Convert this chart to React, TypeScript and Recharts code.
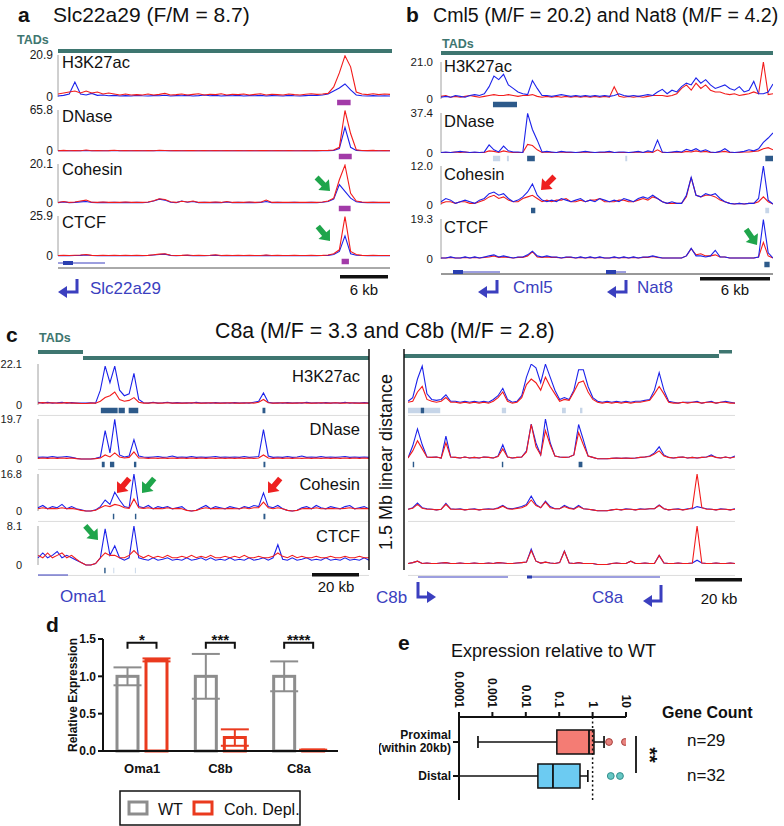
import React from 'react';
import {
  LineChart, Line, XAxis, YAxis, ReferenceArea, ReferenceLine,
  BarChart, Bar, ErrorBar, ComposedChart, Cell,
} from 'recharts';

const FONT = '"Liberation Sans", Arial, Helvetica, sans-serif';
const SIG_BLUE = '#1c22ea';
const SIG_RED = '#f21c1c';
const TEAL = '#3e7670';
const GENE_BLUE = '#3b3fbf';
const PEAK_COLORS: Record<string, string> = { p: '#a23aa8', d: '#2d5a8a', l: '#c6d5e8' };
const WT_GRAY = '#8d8d8d';
const COH_RED = '#ea3a1e';
const ARROW_GREEN = '#1fa54b';
const ARROW_RED = '#ee2020';

// ---- genome browser tracks ----
const TRACKS = ['H3K27ac', 'DNase', 'Cohesin', 'CTCF'];
const aMax = [20.9, 65.8, 20.1, 25.9];
const bMax = [21.0, 37.4, 12.0, 19.3];
const cMax = [22.1, 19.7, 16.8, 8.1];

// panel a: Slc22a29 locus (60 bins)
const aH3Blue = [
  0.5, 0.8, 1.5, 7.5, 1.5, 1, 1.8, 0.8, 1, 0.6,
  0.8, 0.5, 0.7, 0.5, 0.8, 0.6, 0.5, 0.7, 0.6, 0.9,
  0.5, 0.7, 0.6, 0.8, 0.5, 0.7, 1, 0.6, 0.8, 0.5,
  0.7, 0.6, 0.8, 0.5, 0.7, 0.6, 0.8, 0.5, 0.7, 0.6,
  0.5, 0.8, 0.6, 0.5, 0.7, 0.9, 0.8, 1, 1.5, 3,
  4.5, 6.5, 3.5, 1, 0.6, 0.5, 0.7, 0.5, 0.6, 0.5,
];
const aH3Red = [
  1.5, 2, 2.5, 3, 2, 3, 2, 2.5, 1.5, 2,
  1.5, 1, 1.5, 1, 1.2, 1, 1.5, 1, 1.3, 1.8,
  1, 1.2, 1.5, 1, 1.3, 1.6, 1, 1.4, 1.2, 1.6,
  1, 1.4, 1.2, 1.5, 1, 1.3, 1.6, 1, 1.4, 1.2,
  1, 1.5, 1.2, 1, 1.4, 1.6, 1.3, 1.5, 1.8, 5,
  12, 20.5, 15, 2.5, 1.5, 1.2, 1.6, 1.2, 1.5, 1.3,
];
const aDnBlue = [
  0.3, 0.5, 0.3, 0.4, 0.3, 0.8, 0.3, 0.5, 0.3, 0.4,
  0.6, 0.3, 0.4, 0.3, 0.5, 0.3, 0.4, 0.3, 0.6, 0.5,
  0.3, 0.4, 0.3, 0.4, 0.5, 0.3, 0.4, 0.3, 0.4, 0.3,
  0.5, 0.3, 0.4, 0.3, 0.4, 0.3, 0.5, 0.4, 0.3, 0.4,
  0.3, 0.4, 0.3, 0.3, 0.4, 0.3, 0.4, 0.5, 0.6, 1,
  4, 38, 6, 1, 0.5, 0.4, 0.6, 0.3, 0.4, 0.3,
];
const aDnRed = [
  0.5, 1, 0.5, 0.8, 0.5, 1.5, 0.5, 0.8, 0.5, 0.6,
  1.2, 0.5, 0.7, 0.5, 0.8, 0.5, 0.6, 0.5, 1.2, 0.8,
  0.5, 0.7, 0.5, 0.6, 0.8, 0.5, 0.7, 0.5, 0.6, 0.5,
  0.8, 0.5, 0.6, 0.5, 0.7, 0.5, 0.8, 0.6, 0.5, 0.7,
  0.5, 0.6, 0.5, 0.5, 0.7, 0.5, 0.6, 0.8, 1, 1.5,
  6, 65, 28, 2, 0.8, 0.6, 1, 0.5, 0.6, 0.5,
];
const aCoBlue = [
  0.2, 0.6, 0.2, 0.3, 0.6, 0.8, 0.3, 0.2, 0.3, 0.2,
  0.3, 0.2, 0.3, 0.2, 0.3, 0.2, 0.4, 1, 2, 1.5,
  0.4, 0.2, 1, 0.4, 0.8, 0.2, 0.3, 0.2, 0.3, 0.2,
  0.5, 0.2, 0.3, 0.2, 0.3, 0.2, 0.3, 0.8, 0.2, 0.3,
  0.2, 0.2, 0.3, 0.2, 0.2, 0.3, 0.2, 0.4, 0.8, 2,
  9.5, 6, 2.5, 0.6, 0.3, 0.2, 0.3, 0.2, 0.2, 0.2,
];
const aCoRed = [
  0.3, 0.8, 0.3, 0.5, 1, 1.5, 0.4, 0.3, 0.5, 0.3,
  0.4, 0.3, 0.5, 0.3, 0.4, 0.3, 0.5, 1.2, 2.2, 1.8,
  0.6, 0.3, 0.9, 0.5, 1, 0.3, 0.4, 0.3, 0.5, 0.3,
  0.8, 0.3, 0.4, 0.3, 0.5, 0.3, 0.4, 1.5, 0.3, 0.4,
  0.3, 0.3, 0.4, 0.3, 0.3, 0.4, 0.3, 0.5, 1, 2.5,
  12, 19.5, 5, 1, 0.5, 0.3, 0.4, 0.3, 0.3, 0.3,
];
const aCtBlue = [
  0.2, 0.3, 0.2, 0.3, 0.4, 0.6, 0.3, 0.2, 0.3, 0.2,
  0.3, 0.2, 0.3, 0.2, 0.3, 0.2, 0.3, 0.6, 1, 1.2,
  0.4, 0.2, 0.3, 0.4, 0.2, 0.3, 0.2, 0.3, 0.5, 0.2,
  0.3, 0.2, 0.3, 0.2, 0.3, 0.2, 0.2, 0.4, 0.2, 0.3,
  0.2, 0.2, 0.3, 0.2, 0.2, 0.3, 0.2, 0.3, 0.4, 1,
  3, 13, 1.5, 0.5, 0.3, 0.2, 0.3, 0.2, 0.2, 0.2,
];
const aCtRed = [
  0.3, 0.4, 0.3, 0.5, 0.6, 1, 0.4, 0.3, 0.4, 0.3,
  0.5, 0.3, 0.4, 0.3, 0.4, 0.3, 0.4, 0.8, 1.2, 1.5,
  0.5, 0.3, 0.4, 0.6, 0.3, 0.4, 0.3, 0.5, 0.8, 0.3,
  0.4, 0.3, 0.5, 0.3, 0.4, 0.3, 0.3, 0.6, 0.3, 0.4,
  0.3, 0.3, 0.4, 0.3, 0.3, 0.4, 0.3, 0.4, 0.6, 1.5,
  4, 25.5, 3, 1, 0.4, 0.3, 0.4, 0.3, 0.3, 0.3,
];

// panel b: Cml5 / Nat8 locus (70 bins)
const bH3Blue = [
  1, 1.5, 1, 2, 1.5, 1, 2, 2.5, 2, 3,
  7, 13, 11, 14, 8, 6, 4, 3, 2.5, 10.5,
  6, 2, 2, 1.5, 2, 2.5, 2, 1.5, 2, 1.5,
  2, 1.5, 2, 1.5, 2, 1.5, 2, 3, 2, 1.5,
  2, 1.5, 2, 2.5, 2, 4, 5.5, 3, 5, 4,
  7, 9, 8, 12, 9, 11, 8, 6, 7, 8,
  6, 5, 7, 4, 5, 10, 3, 3, 4, 8.5,
];
const bH3Red = [
  1.5, 2, 1, 1.5, 1, 1.5, 2, 1.5, 1, 1.5,
  2, 2.5, 2, 2, 2.5, 2, 1.5, 2, 2, 2.5,
  1.5, 1, 1.5, 1, 1.5, 1, 1.5, 1, 1.5, 1,
  1.5, 1, 1.5, 1, 1.5, 1, 7, 1.5, 1, 1.5,
  1, 1.5, 1, 1.5, 2, 2, 2, 1.5, 2, 3,
  6, 8, 5, 9, 6, 8, 5, 4, 4, 3,
  2.5, 3, 2, 2.5, 3, 4, 3, 21, 2.5, 3,
];
const bDnBlue = [
  0.5, 1, 0.5, 1, 1.5, 1, 0.5, 1, 0.5, 1,
  7.5, 3, 1, 6.5, 2, 1, 1, 0.5, 37, 22,
  12, 1, 1.5, 1, 0.5, 1.5, 1, 1, 0.5, 1,
  1.5, 1, 0.5, 1, 1, 1.5, 0.5, 1, 1, 0.5,
  1, 1.5, 0.5, 2, 1, 12, 1, 0.5, 1, 1.5,
  1, 3.5, 2, 4, 1.5, 3, 1, 0.5, 1.5, 4,
  1, 0.5, 1, 1.5, 3, 2, 4, 10, 14, 18.7,
];
const bDnRed = [
  0.5, 0.5, 0.5, 1, 0.5, 1, 0.5, 0.5, 0.5, 0.5,
  2, 1.5, 0.5, 2, 1, 0.5, 0.5, 0.5, 8, 7,
  3, 0.5, 1, 0.5, 0.5, 1, 0.5, 0.5, 0.5, 0.5,
  1, 0.5, 0.5, 0.5, 0.5, 1, 0.5, 0.5, 0.5, 0.5,
  0.5, 1, 0.5, 1, 0.5, 3, 0.5, 0.5, 0.5, 1,
  0.5, 1.5, 1, 2, 1, 1.5, 0.5, 0.5, 1, 1.5,
  0.5, 0.5, 0.5, 1, 1, 1.5, 2, 4, 5, 3,
];
const bCoBlue = [
  1, 2, 1.5, 0.5, 1, 1.5, 1, 0.5, 1.5, 2,
  3.5, 4, 3, 3.5, 2, 1, 1.5, 2.5, 4, 6.5,
  3, 1.5, 1, 1.5, 1, 2, 1.5, 1, 1.5, 2,
  1, 1.5, 1, 2, 1.5, 1, 1.5, 1, 2, 1.5,
  1, 2, 2.5, 2, 3, 2, 1, 0.5, 1, 0.5,
  0.5, 3, 8.5, 3, 2.5, 3.5, 3, 3.5, 2, 1,
  0.5, 0.3, 0.5, 0.3, 0.5, 0.5, 2, 12, 1.5, 0.3,
];
const bCoRed = [
  0.5, 1, 1, 0.5, 1, 1, 0.5, 0.5, 1, 1.5,
  2.5, 3, 2, 2.5, 1.5, 1, 1, 2, 2.5, 3,
  2, 1, 1.5, 1, 1.5, 1.5, 2, 1, 1, 1.5,
  1, 1.5, 1.5, 2, 1, 1, 1, 1.5, 1.5, 1,
  1, 1.5, 2, 1.5, 2.5, 2, 1, 0.5, 0.5, 0.5,
  0.5, 2.5, 8.5, 3, 2.5, 3, 3, 2.5, 1.5, 1,
  0.5, 0.3, 0.5, 0.3, 0.5, 0.5, 1, 2.5, 1, 0.3,
];
const bCtBlue = [
  0.5, 0.5, 1, 0.5, 0.5, 1, 0.5, 1, 0.5, 1,
  1.5, 2, 1, 1.5, 1, 0.5, 1, 1, 2, 3.8,
  1.5, 1, 1.5, 1, 1, 0.5, 1, 1, 0.5, 1,
  0.5, 1, 0.5, 1, 0.5, 0.5, 1, 0.5, 1, 0.5,
  1, 0.5, 1, 1, 1.5, 1, 0.5, 0.5, 0.5, 0.5,
  0.5, 1.5, 5.2, 1.5, 1.5, 1, 1.5, 4.2, 1, 1,
  0.5, 0.5, 0.5, 0.5, 0.5, 0.5, 1, 19, 3, 0.5,
];
const bCtRed = [
  0.5, 0.5, 0.8, 0.5, 0.5, 0.8, 0.5, 0.8, 0.5, 0.8,
  1, 1.5, 0.8, 1, 0.8, 0.5, 0.8, 0.8, 1.5, 3.5,
  1, 0.8, 1, 0.8, 0.8, 0.5, 0.8, 0.8, 0.5, 0.8,
  0.5, 0.8, 0.5, 0.8, 0.5, 0.5, 0.8, 0.5, 0.8, 0.5,
  0.8, 0.5, 0.8, 0.8, 1.2, 0.8, 0.5, 0.5, 0.5, 0.5,
  0.5, 1.5, 5, 2, 2.5, 1.5, 1.5, 2, 1, 1,
  0.5, 0.5, 0.5, 0.5, 0.5, 0.5, 1, 8, 1.5, 0.5,
];

// panel c, left: Oma1 side (70 bins)
const cH3Blue = [
  1.5, 1, 1.5, 1, 1.2, 1.5, 1, 1.3, 1, 1,
  1, 1.2, 1, 8, 21, 12, 21, 8, 5, 6,
  17, 3, 1.2, 1, 1.5, 1, 1.2, 1.5, 1, 1.3,
  1, 1.2, 1, 1.5, 1, 1.2, 1, 1.3, 1, 1.2,
  1, 1.3, 1, 1.2, 1, 1.5, 2, 6.5, 1.5, 1,
  1.2, 1, 1.3, 1, 1.2, 1, 1.5, 1, 1.2, 1,
  1.3, 1, 1.2, 1, 1.5, 1, 1.2, 1, 1.3, 1,
];
const cH3Red = [
  1, 1.3, 1, 1.2, 1, 1, 1.3, 1, 1, 0.8,
  0.8, 1, 1, 2, 4, 5, 7, 3, 2, 2.5,
  4, 1.5, 1, 1, 1.2, 1, 1, 1.2, 1, 1,
  1, 1, 1.2, 1, 1, 1, 1.2, 1, 1, 1,
  1.2, 1, 1, 1, 1.2, 1, 1.5, 3, 1.2, 1,
  1, 1.2, 1, 1, 1, 1.2, 1, 1, 1, 1.2,
  1, 1, 1.2, 1, 1, 1.2, 1, 1, 1, 1,
];
const cDnBlue = [
  0.8, 1, 0.8, 1.2, 0.8, 1, 1.2, 0.8, 0.3, 0,
  0, 0, 0.3, 1, 14, 3, 19.5, 2, 1, 1.5,
  9.5, 1.5, 1, 0.8, 1, 1.2, 0.8, 1, 1.5, 0.8,
  1, 0.8, 1.2, 0.8, 1, 0.8, 1, 1.2, 0.8, 1,
  0.8, 1, 0.8, 1.2, 0.8, 1, 1.2, 14.5, 1.5, 0.8,
  1, 0.8, 1.2, 0.8, 1, 1.5, 0.8, 1, 0.8, 1.2,
  0.8, 1, 0.8, 1, 1.2, 0.8, 1, 0.8, 1, 0.8,
];
const cDnRed = [
  0.3, 0.5, 0.3, 0.5, 0.3, 0.5, 0.3, 0.5, 0.2, 0,
  0, 0, 0.2, 0.5, 2, 1, 3, 1, 0.5, 0.8,
  3.5, 0.5, 0.5, 0.3, 0.5, 0.3, 0.5, 0.3, 0.5, 0.3,
  0.5, 0.3, 0.5, 0.3, 0.5, 0.3, 0.5, 0.3, 0.5, 0.3,
  0.5, 0.3, 0.5, 0.3, 0.5, 0.3, 0.5, 2, 0.5, 0.3,
  0.5, 0.3, 0.5, 0.3, 0.5, 0.3, 0.5, 0.3, 0.5, 0.3,
  0.5, 0.3, 0.5, 0.3, 0.5, 0.3, 0.5, 0.3, 0.5, 0.3,
];
const cCoBlue = [
  1.5, 2.5, 1, 2, 1.5, 3, 1, 2, 1, 0.5,
  0, 0, 0.5, 2, 5, 3, 8.5, 5, 2, 1.5,
  16.8, 2, 1.5, 2.5, 1, 2, 1.5, 2, 1, 1.5,
  2, 0.3, 0, 0.3, 1.5, 2.5, 1, 2, 1.5, 1,
  2, 1.5, 1, 2, 1.5, 2.5, 2, 8.2, 2, 1.5,
  2.5, 1, 0.3, 0, 0.3, 1.5, 2, 1, 2.5, 1.5,
  1, 2, 1.5, 1, 2, 2.5, 1, 1.5, 2, 1,
];
const cCoRed = [
  1, 1.5, 1, 1.2, 1, 1.5, 1, 1.2, 0.8, 0.3,
  0, 0, 0.3, 1.5, 2.5, 2, 3, 2.5, 1.5, 1.2,
  5.5, 1.5, 1.2, 1.5, 1, 1.2, 1, 1.5, 1, 1.2,
  1, 0.3, 0, 0.3, 1, 1.5, 1, 1.2, 1, 1,
  1.2, 1, 1, 1.5, 1, 1.5, 1.5, 4, 1.5, 1,
  1.5, 1, 0.3, 0, 0.3, 1, 1.2, 1, 1.5, 1,
  1, 1.2, 1, 1, 1.2, 1.5, 1, 1, 1.2, 1,
];
const cCtBlue = [
  1.5, 2.5, 1.5, 2, 2.8, 1.5, 2, 1.5, 1, 0.5,
  0, 0, 0.3, 1.5, 7.5, 2, 4, 1.5, 1, 1.5,
  8.1, 1.5, 1.2, 1, 1.5, 1, 1.2, 1.5, 1, 1.2,
  1, 1.5, 1, 1.2, 1.5, 1, 1.5, 1, 1.2, 1,
  1.5, 1, 1.2, 1, 1.5, 1, 1.2, 1.5, 1, 1.5,
  4.2, 1.2, 1, 1.5, 1, 1.2, 1.5, 1, 1.2, 1,
  1.5, 1, 1.2, 1, 1.5, 1, 1.2, 1, 1.5, 1,
];
const cCtRed = [
  2, 1.5, 2.5, 1.5, 2, 2.5, 1.5, 2, 1.2, 0.5,
  0, 0, 0.3, 1.5, 2.5, 2, 2, 1.5, 1.5, 2,
  3, 2, 1.5, 2, 1.5, 1.8, 1.5, 2, 1.5, 1.5,
  1.8, 1.5, 2, 1.5, 1.8, 1.5, 2, 1.5, 1.5, 1.8,
  1.5, 1.8, 1.5, 2, 1.5, 1.5, 1.8, 1.5, 1.5, 1.8,
  2.5, 1.8, 1.5, 2, 1.5, 1.8, 1.5, 1.5, 1.8, 1.5,
  1.5, 1.8, 1.5, 1.5, 1.8, 1.5, 1.5, 1.8, 1.5, 1.5,
];

// panel c, right: C8b / C8a side (70 bins)
const rH3Blue = [
  2, 4, 14, 21, 6, 3, 2.5, 3, 5.5, 2,
  2, 1.5, 2, 1.5, 2, 1.5, 2, 1.5, 3, 5,
  9, 3, 1.5, 2, 5, 15, 22, 20, 12, 22,
  15, 8, 3, 4, 3, 8, 19, 19, 10, 4,
  2, 1.5, 2, 1.5, 2, 1.5, 2, 1.5, 2, 2,
  2.5, 3, 8, 17.5, 8, 2, 1.5, 1, 1.5, 1.5,
  1.5, 2, 1, 1.5, 2, 1, 1.5, 2, 1.5, 1,
];
const rH3Red = [
  1.5, 2, 7, 10, 3, 2, 1.5, 2, 4, 1.5,
  1.5, 1, 1.5, 1, 1.5, 1, 1.5, 1, 2, 4,
  7, 2, 1, 1.5, 4, 11, 14, 12, 8, 15,
  10, 6, 2, 3, 2.5, 7, 12, 13, 7, 3,
  1.5, 1, 1.5, 1, 1.5, 1, 1.5, 1, 1.5, 1.5,
  2, 2.5, 6, 10, 6, 1.5, 1, 1, 1.5, 1,
  1.5, 1.5, 1, 1.5, 1.5, 1, 1.5, 1.5, 1, 1,
];
const rDnBlue = [
  0.5, 6.5, 14.8, 7, 1, 0.8, 1, 0.5, 11.3, 1,
  0.8, 0.5, 1, 0.5, 0.8, 0.5, 1, 0.8, 0.5, 1.5,
  7, 1, 0.5, 0.8, 1, 4, 17.2, 7.9, 2, 19.7,
  8, 1.5, 1, 0.8, 1, 2, 17, 9.4, 1.5, 0.8,
  0.1, 0.1, 0.1, 0.3, 0.5, 0.3, 0.5, 0.3, 0.5, 0.8,
  1, 1.5, 3, 6, 2, 0.8, 0.5, 0.8, 1, 0.5,
  0.8, 0.5, 0.8, 1, 2, 0.8, 0.5, 1, 0.5, 1.5,
];
const rDnRed = [
  0.5, 4, 9, 5, 1, 0.8, 1, 0.5, 8, 1,
  0.8, 0.5, 1, 0.5, 0.8, 0.5, 1, 0.8, 0.5, 1.2,
  5, 1, 0.5, 0.8, 1, 3.5, 17, 6, 2, 14,
  7, 1.5, 1, 0.8, 1, 2, 13, 7, 1.5, 0.8,
  0.1, 0.1, 0.1, 0.3, 0.5, 0.3, 0.5, 0.3, 0.5, 0.8,
  1, 1.2, 2.5, 4, 1.5, 0.8, 0.5, 0.8, 1, 0.5,
  0.8, 0.5, 0.8, 1, 1.5, 0.8, 0.5, 1, 0.5, 1,
];
const rCoBlue = [
  0.8, 1.5, 3.6, 1.5, 1, 0.8, 0.5, 0.8, 3.5, 1,
  0.8, 1, 0.5, 0.8, 1, 0.5, 0.8, 1, 0.8, 1.5,
  2.5, 1.2, 1, 1.5, 2, 3, 6.8, 3, 1.5, 4.5,
  2, 1, 1, 2.5, 1.5, 1, 2.5, 1, 0.8, 0.5,
  0.1, 0.1, 0.1, 0.5, 0.8, 0.5, 1, 0.8, 0.5, 1,
  0.8, 1, 1, 2.7, 1, 0.5, 0.8, 1, 0.5, 1,
  1, 2, 1.5, 1, 0.8, 0.5, 1, 0.8, 0.5, 1,
];
const rCoRed = [
  0.8, 1.2, 3, 1.2, 0.8, 0.8, 0.5, 0.8, 3, 0.8,
  0.8, 0.8, 0.5, 0.8, 0.8, 0.5, 0.8, 0.8, 0.8, 1.2,
  2.2, 1, 0.8, 1.2, 1.5, 2.5, 5, 2.5, 1.5, 4,
  1.5, 1, 1, 2, 1.2, 0.8, 2, 1, 0.8, 0.5,
  0.1, 0.1, 0.1, 0.5, 0.8, 0.5, 0.8, 0.8, 0.5, 0.8,
  0.8, 1, 1, 2.5, 1, 0.5, 0.8, 0.8, 0.5, 0.8,
  1.5, 16.8, 1.5, 0.8, 0.8, 0.5, 0.8, 0.8, 0.5, 0.8,
];
const rCtBlue = [
  0.3, 0.5, 0.8, 0.3, 0.4, 0.3, 0.3, 0.4, 0.5, 0.3,
  0.3, 0.4, 0.3, 0.3, 0.4, 0.3, 0.3, 0.4, 0.3, 0.5,
  0.4, 0.3, 0.3, 0.4, 0.5, 0.6, 3.3, 0.8, 0.4, 0.6,
  0.4, 0.3, 0.5, 2.9, 0.4, 0.3, 0.5, 0.3, 0.3, 0.3,
  0.1, 0.1, 0.1, 0.3, 0.4, 0.3, 0.3, 0.8, 0.3, 0.3,
  0.4, 0.3, 0.3, 2, 0.4, 0.3, 0.3, 0.4, 0.3, 0.3,
  0.4, 1, 0.4, 0.3, 0.3, 0.4, 0.3, 0.3, 0.4, 0.3,
];
const rCtRed = [
  0.3, 0.5, 0.8, 0.3, 0.4, 0.3, 0.3, 0.4, 0.5, 0.3,
  0.3, 0.4, 0.3, 0.3, 0.4, 0.3, 0.3, 0.4, 0.3, 0.5,
  0.4, 0.3, 0.3, 0.4, 0.5, 0.6, 3, 0.8, 0.4, 0.6,
  0.4, 0.3, 0.5, 2.8, 0.4, 0.3, 0.5, 0.3, 0.3, 0.3,
  0.1, 0.1, 0.1, 0.3, 0.4, 0.3, 0.3, 0.8, 0.3, 0.3,
  0.4, 0.3, 0.3, 2, 0.4, 0.3, 0.3, 0.4, 0.3, 0.3,
  0.4, 8.1, 0.4, 0.3, 0.3, 0.4, 0.3, 0.3, 0.4, 0.3,
];

// peak calls under each track, in bin units: [start, end, kind]
const aPeaks = [[[49.6, 52.0, 'p']], [[49.9, 52.2, 'p']], [[49.9, 52.0, 'p']], [[50.4, 51.7, 'p']]];
const bPeaks = [
  [[10.8, 15.8, 'd']],
  [[10.8, 12.3, 'l'], [13.7, 14.1, 'l'], [17.9, 19.5, 'd'], [38.3, 38.7, 'l'], [67.4, 69, 'd']],
  [[18.7, 19.6, 'd'], [67.4, 68.2, 'l']],
  [[67.2, 68.3, 'd']],
];
const cPeaks = [
  [[13.1, 16.6, 'd'], [16.8, 18.1, 'd'], [18.9, 20.9, 'd'], [46.8, 47.4, 'd']],
  [[13.3, 13.9, 'd'], [15.0, 15.9, 'd'], [20.0, 20.5, 'd'], [47.0, 47.4, 'd']],
  [[15.6, 15.9, 'd'], [20.2, 20.5, 'd'], [47.0, 47.4, 'd']],
  [[13.8, 14.1, 'd'], [15.7, 15.9, 'l'], [20.2, 20.4, 'l']],
];
const rPeaks = [
  [[0, 6.8, 'l'], [2.7, 3.4, 'd'], [19.8, 20.7, 'l'], [32.5, 33.3, 'l'], [36.3, 36.8, 'l']],
  [[1.0, 1.3, 'd'], [19.8, 20.1, 'd'], [36.0, 36.8, 'd']],
  [],
  [],
];

// ---- panel d: qPCR ----
const dGenes = ['Oma1', 'C8b', 'C8a'];
const wtMean = [1.0, 1.0, 1.0];
const wtSem = [0.12, 0.3, 0.2];
const cohMean = [1.22, 0.18, 0.012];
const cohSem = [0.02, 0.11, 0.006];
const sigStars = ['*', '***', '****'];
const seriesNames = ['WT', 'Coh. Depl.'];

// ---- panel e: box plot ----
const eGroups = ['Proximal', 'Distal'];
const eGroupLines = [['Proximal', '(within 20kb)'], ['Distal']];
const eWhiskLow = [0.00037, 0.0001];
const eQ1 = [0.085, 0.023];
const eMedian = [0.78, 0.065];
const eQ3 = [1.1, 0.42];
const eWhiskHigh = [2.2, 0.72];
const eOutlierA = [3.1, 3.5];
const eOutlierB = [9.3, 6.6];
const eCounts = [29, 32];
const eTicks = [0.0001, 0.001, 0.01, 0.1, 1, 10];

const MT = 6;
const EXTRA = 11;

function Track({ blue, red, max, plotLeft, top, plotW, plotH, axisW, tickMargin, tickFont, peaks, blueOnTop, axisLine, sep }: any) {
  const n = blue.length;
  const data = blue.map((b: number, i: number) => ({ i, b, r: red[i] }));
  const lo = (-max * EXTRA) / plotH;
  const blueLine = (
    <Line key="b" type="linear" dataKey="b" stroke={SIG_BLUE} strokeWidth={1.1} dot={false} activeDot={false} isAnimationActive={false} />
  );
  const redLine = (
    <Line key="r" type="linear" dataKey="r" stroke={SIG_RED} strokeWidth={1.1} dot={false} activeDot={false} isAnimationActive={false} />
  );
  return (
    <div style={{ position: 'absolute', left: plotLeft - axisW, top: top - MT }}>
      <LineChart width={axisW + plotW} height={MT + plotH + EXTRA} data={data} margin={{ top: MT, right: 0, bottom: 0, left: 0 }}>
        <XAxis type="number" dataKey="i" domain={[0, n - 1]} hide />
        <YAxis
          type="number"
          domain={[lo, max]}
          ticks={[0, max]}
          interval={0}
          allowDataOverflow
          hide={axisW === 0}
          width={axisW}
          axisLine={false}
          tickLine={false}
          tickSize={0}
          tickMargin={tickMargin}
          tick={{ fontSize: tickFont, fill: '#1a1a1a' }}
          tickFormatter={(v: number) => (v === 0 ? '0' : v.toFixed(1))}
        />
        {sep && <ReferenceLine y={lo * 0.95} stroke="#dcdcdc" strokeWidth={1} />}
        {axisLine && <ReferenceLine segment={[{ x: 0, y: 0 }, { x: 0, y: max }]} stroke="#a0a0a0" strokeWidth={1} />}
        {peaks.map((pk: any, k: number) => (
          <ReferenceArea key={k} x1={pk[0]} x2={pk[1]} y1={lo * 0.25} y2={lo * 0.75} fill={PEAK_COLORS[pk[2]]} fillOpacity={1} stroke="none" />
        ))}
        {blueOnTop ? [redLine, blueLine] : [blueLine, redLine]}
      </LineChart>
    </div>
  );
}

const PANELS = [
  { key: 'a', blue: [aH3Blue, aDnBlue, aCoBlue, aCtBlue], red: [aH3Red, aDnRed, aCoRed, aCtRed], max: aMax, peaks: aPeaks,
    plotLeft: 58, plotW: 332, axisW: 40, tickMargin: 5, tickFont: 12, rows: [[55, 42], [110, 41], [164, 39], [216, 40]], blueOnTop: false, axisLine: true, sep: false },
  { key: 'b', blue: [bH3Blue, bDnBlue, bCoBlue, bCtBlue], red: [bH3Red, bDnRed, bCoRed, bCtRed], max: bMax, peaks: bPeaks,
    plotLeft: 441, plotW: 332, axisW: 40, tickMargin: 8, tickFont: 11.5, rows: [[62, 37], [113, 40], [166, 39], [219, 40]], blueOnTop: true, axisLine: true, sep: false },
  { key: 'cl', blue: [cH3Blue, cDnBlue, cCoBlue, cCtBlue], red: [cH3Red, cDnRed, cCoRed, cCtRed], max: cMax, peaks: cPeaks,
    plotLeft: 38, plotW: 331, axisW: 38, tickMargin: 16, tickFont: 11, rows: [[364, 41], [419, 40], [474, 37], [526, 39]], blueOnTop: false, axisLine: true, sep: true },
  { key: 'cr', blue: [rH3Blue, rDnBlue, rCoBlue, rCtBlue], red: [rH3Red, rDnRed, rCoRed, rCtRed], max: cMax, peaks: rPeaks,
    plotLeft: 408, plotW: 327, axisW: 0, tickMargin: 0, tickFont: 11, rows: [[364, 41], [419, 40], [474, 37], [526, 39]], blueOnTop: false, axisLine: false, sep: true },
];

// ---- panel d ----
const BAR_SIZE = 21;
const BAR_GAP = 8;
const BRACKET_AT = 1.45;

const dData = dGenes.map((gene, k) => ({ gene, wt: wtMean[k], wtErr: wtSem[k], coh: cohMean[k], cohErr: cohSem[k] }));

function WtBar(p: any) {
  const { x, y, width, height } = p;
  const k = dGenes.indexOf(p.payload?.gene);
  const v = wtMean[k];
  const unit = height / v;
  const yb = y + height - BRACKET_AT * unit;
  const x1 = x + width / 2;
  const x2 = x + width + BAR_GAP + width / 2;
  return (
    <g>
      <rect x={x} y={y} width={width} height={height} fill="#fff" stroke={WT_GRAY} strokeWidth={3} />
      <path d={`M${x1},${yb + 6} V${yb} H${x2} V${yb + 6}`} fill="none" stroke="#111" strokeWidth={2} />
      <text x={(x1 + x2) / 2} y={yb + 2} textAnchor="middle" fontSize={15} fontWeight={700} fill="#111">{sigStars[k]}</text>
    </g>
  );
}

function PanelD() {
  return (
    <div style={{ position: 'absolute', left: 63, top: 629 }}>
      <BarChart width={275} height={152} data={dData} margin={{ top: 10, right: 0, bottom: 0, left: 0 }} barSize={BAR_SIZE} barGap={BAR_GAP}>
        <XAxis dataKey="gene" height={30} axisLine={{ stroke: '#111', strokeWidth: 2 }} tickLine={false} tickMargin={7}
          tick={{ fontSize: 13, fontWeight: 700, fill: '#111' }} />
        <YAxis domain={[0, 1.5]} ticks={[0, 0.5, 1, 1.5]} interval={0} width={40} axisLine={{ stroke: '#111', strokeWidth: 2 }}
          tickLine={{ stroke: '#111', strokeWidth: 2 }} tickSize={5} tickMargin={2} tickFormatter={(v: number) => v.toFixed(1)}
          tick={{ fontSize: 12, fontWeight: 700, fill: '#111' }} />
        <Bar dataKey="wt" name={seriesNames[0]} shape={WtBar} isAnimationActive={false}>
          <ErrorBar dataKey="wtErr" width={14} stroke={WT_GRAY} strokeWidth={2} direction="y" />
        </Bar>
        <Bar dataKey="coh" name={seriesNames[1]} fill="#fff" stroke={COH_RED} strokeWidth={3} isAnimationActive={false}>
          <ErrorBar dataKey="cohErr" width={14} stroke={COH_RED} strokeWidth={2} direction="y" />
        </Bar>
      </BarChart>
    </div>
  );
}

// ---- panel e ----
const eData = eGroups.map((g, k) => ({
  g,
  whisk: [eWhiskLow[k], eWhiskHigh[k]],
  box: [eQ1[k], eQ3[k]],
  med: eMedian[k],
  oa: eOutlierA[k],
  ob: eOutlierB[k],
}));
const BOX_FILL = ['#f47c74', '#6ccbf2'];
const OUT_FILL = ['#e8837f', '#66c7c4'];
const OUT_STROKE = ['#a8403c', '#348f8c'];

function LogTick(p: any) {
  return (
    <text transform={`translate(${p.x},${p.y}) rotate(90)`} textAnchor="end" dominantBaseline="central" fontSize={12} fontWeight={700} fill="#111">
      {String(p.payload.value)}
    </text>
  );
}

function GroupTick(p: any) {
  const lines = eGroupLines[eGroups.indexOf(p.payload.value)] || [p.payload.value];
  const first = lines.length > 1 ? -3 : 4;
  return (
    <text x={p.x} y={p.y} textAnchor="end" fontSize={12} fontWeight={700} fill="#111">
      {lines.map((l: string, k: number) => (
        <tspan key={k} x={p.x} y={p.y + first + k * 13}>{l}</tspan>
      ))}
    </text>
  );
}

function Whisker(p: any) {
  const { x, y, width, height } = p;
  const cy = y + height / 2;
  return (
    <g stroke="#111" strokeWidth={1.7}>
      <line x1={x} x2={x + width} y1={cy} y2={cy} />
      <line x1={x} x2={x} y1={y} y2={y + height} />
      <line x1={x + width} x2={x + width} y1={y} y2={y + height} />
    </g>
  );
}

function MedianDot(p: any) {
  return <line key={`m${p.index}`} x1={p.cx} x2={p.cx} y1={p.cy - 12} y2={p.cy + 12} stroke="#111" strokeWidth={1.8} />;
}

function OutlierDot(p: any) {
  return <circle key={`o${p.dataKey}${p.index}`} cx={p.cx} cy={p.cy} r={3.4} fill={OUT_FILL[p.index]} stroke={OUT_STROKE[p.index]} strokeWidth={1} />;
}

const E_POS = { left: 379, top: 667, width: 261, height: 133 };

function eAxes(visible: boolean) {
  return [
    <XAxis key="x" type="number" scale="log" domain={[0.0001, 10]} ticks={eTicks} interval={0} orientation="top" height={50} allowDataOverflow
      axisLine={visible ? { stroke: '#111', strokeWidth: 2 } : false}
      tickLine={visible ? { stroke: '#111', strokeWidth: 2 } : false}
      tickSize={5} tickMargin={4} tick={visible ? LogTick : false} />,
    <YAxis key="y" type="category" dataKey="g" width={80} padding={{ top: 8, bottom: 7 }} interval={0}
      axisLine={visible ? { stroke: '#111', strokeWidth: 2 } : false}
      tickLine={visible ? { stroke: '#111', strokeWidth: 2 } : false}
      tickSize={6} tickMargin={2} tick={visible ? GroupTick : false} />,
  ];
}

function PanelE() {
  const chartProps = { width: E_POS.width, height: E_POS.height, data: eData, layout: 'vertical' as const, margin: { top: 0, right: 14, bottom: 0, left: 0 } };
  return (
    <>
      <div style={{ position: 'absolute', left: E_POS.left, top: E_POS.top }}>
        <ComposedChart {...chartProps}>
          {eAxes(true)}
          <Bar dataKey="whisk" barSize={12} shape={Whisker} isAnimationActive={false} />
        </ComposedChart>
      </div>
      <div style={{ position: 'absolute', left: E_POS.left, top: E_POS.top }}>
        <ComposedChart {...chartProps}>
          {eAxes(false)}
          <Bar dataKey="box" barSize={24} stroke="#111" strokeWidth={1.5} isAnimationActive={false}>
            {eData.map((_, k) => <Cell key={k} fill={BOX_FILL[k]} />)}
          </Bar>
          <ReferenceLine x={1} stroke="#111" strokeWidth={1.5} strokeDasharray="2 2.5" />
          <Line dataKey="med" stroke="none" dot={MedianDot} activeDot={false} isAnimationActive={false} />
          <Line dataKey="oa" stroke="none" dot={OutlierDot} activeDot={false} isAnimationActive={false} />
          <Line dataKey="ob" stroke="none" dot={OutlierDot} activeDot={false} isAnimationActive={false} />
        </ComposedChart>
      </div>
    </>
  );
}

// ---- static annotations ----
function Arrow({ x, y, angle, color }: any) {
  return <polygon points="0,0 -9,-7.5 -9,-2.8 -19,-2.8 -19,2.8 -9,2.8 -9,7.5" fill={color} transform={`translate(${x},${y}) rotate(${angle})`} />;
}

function BentArrow({ cx, cy, top, tip }: any) {
  const s = tip < cx ? 1 : -1;
  return (
    <g>
      <path d={`M${cx},${top} V${cy} H${tip + 7 * s}`} fill="none" stroke={GENE_BLUE} strokeWidth={3} />
      <polygon points={`${tip},${cy} ${tip + 9 * s},${cy - 6} ${tip + 9 * s},${cy + 6}`} fill={GENE_BLUE} />
    </g>
  );
}

function T({ x, y, s, w, c, a, children }: any) {
  return <text x={x} y={y} fontSize={s} fontWeight={w || 400} fill={c || '#111'} textAnchor={a || 'start'}>{children}</text>;
}

function Overlay() {
  return (
    <svg width={784} height={826} style={{ position: 'absolute', left: 0, top: 0, pointerEvents: 'none' }}>
      {/* panel titles */}
      <T x={18} y={22} s={21} w={700}>a</T>
      <T x={53} y={22} s={21}>Slc22a29 (F/M = 8.7)</T>
      <T x={406} y={22} s={21} w={700}>b</T>
      <T x={433} y={22} s={19.6}>Cml5 (M/F = 20.2) and Nat8 (M/F = 4.2)</T>
      <T x={6} y={342} s={21} w={700}>c</T>
      <T x={215} y={338} s={21.3}>C8a (M/F = 3.3 and C8b (M/F = 2.8)</T>
      <T x={46} y={632} s={21} w={700}>d</T>
      <T x={398} y={650} s={21} w={700}>e</T>

      {/* TADs */}
      <T x={17} y={44} s={12.5} w={700} c={TEAL}>TADs</T>
      <T x={442} y={48} s={12.5} w={700} c={TEAL}>TADs</T>
      <T x={39} y={342} s={12.5} w={700} c={TEAL}>TADs</T>
      <rect x={58} y={49} width={334} height={4} fill={TEAL} />
      <rect x={441} y={51} width={332} height={4} fill={TEAL} />
      <rect x={38} y={350} width={45} height={4} fill={TEAL} />
      <rect x={83} y={356} width={286} height={4} fill={TEAL} />
      <rect x={404} y={354} width={315} height={4} fill={TEAL} />
      <rect x={719} y={350} width={13} height={3.5} fill={TEAL} />

      {/* track labels */}
      {TRACKS.map((t, k) => <T key={`a${k}`} x={62} y={[68, 122, 175, 228][k]} s={16.5}>{t}</T>)}
      {TRACKS.map((t, k) => <T key={`b${k}`} x={444} y={[72, 127, 180, 233][k]} s={16.5}>{t}</T>)}
      {TRACKS.map((t, k) => <T key={`c${k}`} x={360} y={[382, 435, 490, 542][k]} s={16.5} a="end">{t}</T>)}

      {/* gene models */}
      <line x1={58} x2={390} y1={268} y2={268} stroke="#555" strokeWidth={1} />
      <line x1={58} x2={105} y1={263} y2={263} stroke={GENE_BLUE} strokeWidth={1} />
      <rect x={63} y={261} width={10} height={4} fill="#2a3fb0" />
      <line x1={441} x2={773} y1={274} y2={274} stroke="#333" strokeWidth={1} />
      <rect x={453} y={270} width={10} height={4} fill="#2a3fb0" />
      <line x1={463} x2={500} y1={272} y2={272} stroke={GENE_BLUE} strokeWidth={1} />
      <rect x={606} y={270} width={10} height={4} fill="#2a3fb0" />
      <line x1={616} x2={626} y1={272} y2={272} stroke={GENE_BLUE} strokeWidth={1} />
      <line x1={38} x2={68} y1={575} y2={575} stroke={GENE_BLUE} strokeWidth={1} />
      <line x1={418} x2={508} y1={577} y2={577} stroke={GENE_BLUE} strokeWidth={1} />
      <rect x={527} y={575.5} width={5} height={3} fill="#2a3fb0" />
      <line x1={532} x2={660} y1={577} y2={577} stroke={GENE_BLUE} strokeWidth={1} />

      {/* gene names */}
      <BentArrow cx={77} cy={292} top={279} tip={58} />
      <T x={90} y={294} s={17} c={GENE_BLUE}>Slc22a29</T>
      <BentArrow cx={497} cy={292} top={280} tip={478} />
      <T x={513} y={293} s={17} c={GENE_BLUE}>Cml5</T>
      <BentArrow cx={626} cy={292} top={280} tip={607} />
      <T x={637} y={293} s={17} c={GENE_BLUE}>Nat8</T>
      <T x={60} y={602} s={17} c={GENE_BLUE}>Oma1</T>
      <T x={376} y={603} s={17} c={GENE_BLUE}>C8b</T>
      <BentArrow cx={418} cy={597} top={582} tip={436} />
      <T x={592} y={603} s={17} c={GENE_BLUE}>C8a</T>
      <BentArrow cx={661} cy={601} top={585} tip={643} />

      {/* scale bars */}
      <rect x={340} y={275} width={48} height={3.5} fill="#111" />
      <T x={364} y={295} s={15} a="middle">6 kb</T>
      <rect x={700} y={277} width={70} height={3.5} fill="#111" />
      <T x={735} y={295} s={15} a="middle">6 kb</T>
      <rect x={312} y={573} width={47} height={3.5} fill="#111" />
      <T x={336} y={592} s={15} a="middle">20 kb</T>
      <rect x={695} y={578} width={47} height={3.5} fill="#111" />
      <T x={719} y={604} s={15} a="middle">20 kb</T>

      {/* panel c divider */}
      <line x1={369} x2={369} y1={349} y2={570} stroke="#111" strokeWidth={1.5} />
      <line x1={404} x2={404} y1={349} y2={570} stroke="#111" strokeWidth={1.5} />
      <text transform="translate(392,462) rotate(-90)" textAnchor="middle" fontSize={18} fill="#111">1.5 Mb linear distance</text>

      {/* arrows */}
      <Arrow x={330} y={191} angle={45} color={ARROW_GREEN} />
      <Arrow x={330} y={241} angle={50} color={ARROW_GREEN} />
      <Arrow x={541} y={190} angle={135} color={ARROW_RED} />
      <Arrow x={757} y={245} angle={55} color={ARROW_GREEN} />
      <Arrow x={117} y={493} angle={130} color={ARROW_RED} />
      <Arrow x={142} y={493} angle={130} color={ARROW_GREEN} />
      <Arrow x={268} y={493} angle={130} color={ARROW_RED} />
      <Arrow x={98} y={540} angle={48} color={ARROW_GREEN} />

      {/* panel d extras */}
      <text transform="translate(77,695) rotate(-90)" textAnchor="middle" fontSize={12} fontWeight={700} fill="#111">Relative Expression</text>
      <rect x={120} y={791} width={180} height={34} fill="none" stroke="#111" strokeWidth={1.5} />
      <rect x={129} y={802} width={18} height={12} fill="none" stroke={WT_GRAY} strokeWidth={3} />
      <T x={158} y={815} s={16}>{seriesNames[0]}</T>
      <rect x={194} y={802} width={18} height={12} fill="none" stroke={COH_RED} strokeWidth={3} />
      <T x={224} y={815} s={16}>{seriesNames[1]}</T>

      {/* panel e extras */}
      <T x={451} y={657} s={18}>Expression relative to WT</T>
      <T x={662} y={718} s={16} w={700}>Gene Count</T>
      <T x={687} y={746} s={17}>{`n=${eCounts[0]}`}</T>
      <T x={687} y={781} s={17}>{`n=${eCounts[1]}`}</T>
      <line x1={636} x2={636} y1={736} y2={773} stroke="#111" strokeWidth={1.8} />
      <text transform="translate(643,755) rotate(90)" textAnchor="middle" fontSize={20} fontWeight={700} fill="#111">**</text>
    </svg>
  );
}

export default function App() {
  return (
    <div style={{ position: 'absolute', left: 0, top: 0, width: 784, height: 826, background: '#fff', fontFamily: FONT, overflow: 'hidden' }}>
      {PANELS.map((pn) =>
        pn.rows.map(([top, plotH], k) => (
          <Track
            key={`${pn.key}${k}`}
            blue={pn.blue[k]}
            red={pn.red[k]}
            max={pn.max[k]}
            peaks={pn.peaks[k]}
            plotLeft={pn.plotLeft}
            plotW={pn.plotW}
            axisW={pn.axisW}
            tickMargin={pn.tickMargin}
            tickFont={pn.tickFont}
            top={top}
            plotH={plotH}
            blueOnTop={pn.blueOnTop}
            axisLine={pn.axisLine}
            sep={pn.sep}
          />
        )),
      )}
      <PanelD />
      <PanelE />
      <Overlay />
    </div>
  );
}
